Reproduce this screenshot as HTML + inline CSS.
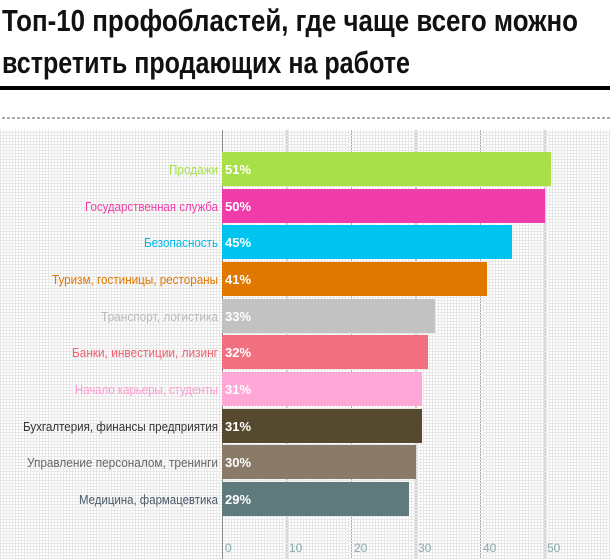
<!DOCTYPE html>
<html><head><meta charset="utf-8"><style>
html,body{margin:0;padding:0;background:#fff;width:610px;height:559px;overflow:hidden}
svg{display:block}
</style></head><body>
<svg width="610" height="559" viewBox="0 0 610 559" xmlns="http://www.w3.org/2000/svg" font-family="Liberation Sans, sans-serif">
<defs>
<pattern id="dots" width="3" height="3" patternUnits="userSpaceOnUse">
<rect width="3" height="3" fill="#fff"/>
<rect x="0" y="0" width="3" height="1" fill="#e8e8e8"/>
<rect x="0" y="0" width="1" height="3" fill="#e8e8e8"/>
</pattern>
</defs>
<text x="2" y="31" font-size="31" font-weight="bold" fill="#111" textLength="576" lengthAdjust="spacingAndGlyphs">Топ-10 профобластей, где чаще всего можно</text>
<text x="2" y="73" font-size="31" font-weight="bold" fill="#111" textLength="408" lengthAdjust="spacingAndGlyphs">встретить продающих на работе</text>
<rect x="0" y="86" width="610" height="4" fill="#000"/>
<line x1="2" y1="118" x2="610" y2="118" stroke="#555" stroke-dasharray="3,2" stroke-width="1"/>
<rect x="0" y="130" width="610" height="429" fill="url(#dots)"/>
<g stroke="#aaa" stroke-dasharray="2,1" stroke-width="1">
<line x1="287" y1="130" x2="287" y2="559"/>
<line x1="351.5" y1="130" x2="351.5" y2="559"/>
<line x1="416" y1="130" x2="416" y2="559"/>
<line x1="480.5" y1="130" x2="480.5" y2="559"/>
<line x1="545" y1="130" x2="545" y2="559"/>
</g>
<line x1="222.5" y1="130" x2="222.5" y2="559" stroke="#888" stroke-width="1"/>
<g font-size="12" fill="#8aa">
<text x="225" y="552">0</text><text x="289" y="552">10</text><text x="354" y="552">20</text><text x="418" y="552">30</text><text x="483" y="552">40</text><text x="547" y="552">50</text>
</g>
<g font-size="13" text-anchor="end" lengthAdjust="spacingAndGlyphs">
<rect x="222" y="152" width="329" height="34" fill="#a8e04a"/><text x="218" y="174" fill="#a8e04a" textLength="49" lengthAdjust="spacingAndGlyphs">Продажи</text>
<rect x="222" y="189" width="323" height="34" fill="#f03ca8"/><text x="218" y="211" fill="#f03ca8" textLength="133" lengthAdjust="spacingAndGlyphs">Государственная служба</text>
<rect x="222" y="225" width="290" height="34" fill="#00c4f0"/><text x="218" y="247" fill="#00b8e8" textLength="74" lengthAdjust="spacingAndGlyphs">Безопасность</text>
<rect x="222" y="262" width="265" height="34" fill="#e07800"/><text x="218" y="284" fill="#e07800" textLength="166" lengthAdjust="spacingAndGlyphs">Туризм, гостиницы, рестораны</text>
<rect x="222" y="299" width="213" height="34" fill="#c2c2c2"/><text x="218" y="321" fill="#bbb" textLength="117" lengthAdjust="spacingAndGlyphs">Транспорт, логистика</text>
<rect x="222" y="335" width="206" height="34" fill="#f07080"/><text x="218" y="357" fill="#f06070" textLength="146" lengthAdjust="spacingAndGlyphs">Банки, инвестиции, лизинг</text>
<rect x="222" y="372" width="200" height="34" fill="#ffa8d8"/><text x="218" y="394" fill="#ff99d0" textLength="143" lengthAdjust="spacingAndGlyphs">Начало карьеры, студенты</text>
<rect x="222" y="409" width="200" height="34" fill="#554a30"/><text x="218" y="431" fill="#333" textLength="195" lengthAdjust="spacingAndGlyphs">Бухгалтерия, финансы предприятия</text>
<rect x="222" y="445" width="194" height="34" fill="#8a7a68"/><text x="218" y="467" fill="#666" textLength="191" lengthAdjust="spacingAndGlyphs">Управление персоналом, тренинги</text>
<rect x="222" y="482" width="187" height="34" fill="#5f7a7c"/><text x="218" y="504" fill="#4a5a6a" textLength="139" lengthAdjust="spacingAndGlyphs">Медицина, фармацевтика</text>
</g>
<g font-size="13" fill="#fff" font-weight="bold">
<text x="225" y="174">51%</text><text x="225" y="211">50%</text><text x="225" y="247">45%</text><text x="225" y="284">41%</text><text x="225" y="321">33%</text><text x="225" y="357">32%</text><text x="225" y="394">31%</text><text x="225" y="431">31%</text><text x="225" y="467">30%</text><text x="225" y="504">29%</text>
</g>
</svg>
</body></html>
